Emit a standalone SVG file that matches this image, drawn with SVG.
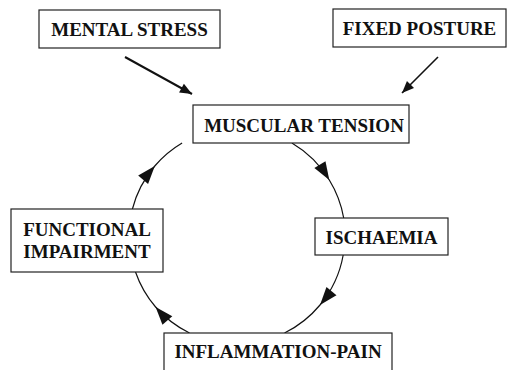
<svg xmlns="http://www.w3.org/2000/svg" width="508" height="370" viewBox="0 0 508 370">
<style>
.box{fill:#fff;stroke:#222;stroke-width:1.2}
.lbl{font-family:"Liberation Serif","Times New Roman",serif;font-weight:bold;font-size:19px;fill:#111;text-anchor:middle}
.arc{fill:none;stroke:#111;stroke-width:1.2;marker-mid:url(#head)}
.str{fill:none;stroke:#111;stroke-width:2;marker-end:url(#shead)}
</style>
<defs>
<marker id="head" markerUnits="userSpaceOnUse" markerWidth="20" markerHeight="14" refX="18" refY="6.5" orient="auto" overflow="visible">
<path d="M0,0 L18,6.5 L0,13 Z" fill="#111"/>
</marker>
<marker id="shead" markerUnits="userSpaceOnUse" markerWidth="14" markerHeight="12" refX="12" refY="5" orient="auto" overflow="visible">
<path d="M0,0 L12,5 L0,10 Z" fill="#111"/>
</marker>
</defs>
<rect width="508" height="370" fill="#fff"/>
<g id="connectors">
<path class="arc" d="M291.9,143 A108,108 0 0 1 329.3,180 A108,108 0 0 1 343.7,218"/>
<path class="arc" d="M343.2,255 A108,108 0 0 1 320,305 A108,108 0 0 1 284.5,333"/>
<path class="arc" d="M189.5,333 A108,108 0 0 1 155.6,307 A108,108 0 0 1 135.5,272"/>
<path class="arc" d="M132.4,209 A108,108 0 0 1 154.8,166 A108,108 0 0 1 182.1,143"/>
<path class="str" d="M125,57 L192,94"/>
<path class="str" style="stroke-width:1.6" d="M438,57 L402,93"/>
</g>
<g id="mental-stress"><rect class="box" x="39" y="10" width="181" height="38"/><text class="lbl" x="129.5" y="36">MENTAL STRESS</text></g>
<g id="fixed-posture"><rect class="box" x="333" y="9" width="173" height="38"/><text class="lbl" x="419.5" y="35">FIXED POSTURE</text></g>
<g id="muscular-tension"><rect class="box" x="193" y="105" width="216" height="38"/><text class="lbl" x="304" y="132">MUSCULAR TENSION</text></g>
<g id="ischaemia"><rect class="box" x="315" y="218" width="133" height="37"/><text class="lbl" x="381.5" y="244">ISCHAEMIA</text></g>
<g id="inflammation-pain"><rect class="box" x="164" y="333" width="228" height="45"/><text class="lbl" x="278" y="358">INFLAMMATION-PAIN</text></g>
<g id="functional-impairment"><rect class="box" x="11" y="209" width="152" height="63"/><text class="lbl" x="87" y="236">FUNCTIONAL</text><text class="lbl" x="87" y="258">IMPAIRMENT</text></g>
</svg>
